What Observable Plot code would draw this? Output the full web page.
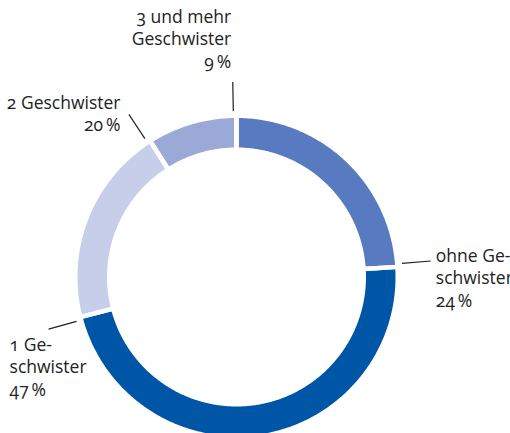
<!DOCTYPE html>
<html>
<head>
<meta charset="utf-8">
<script src="https://cdn.jsdelivr.net/npm/d3@7"></script>
<script src="https://cdn.jsdelivr.net/npm/@observablehq/plot@0.6"></script>
<style>
  html, body { margin: 0; padding: 0; background: #fff; }
  #chart svg { display: block; }
</style>
</head>
<body>
<div id="chart"></div>
<script>
// ---- data ----
const categories = ["ohne Geschwister", "1 Geschwister", "2 Geschwister", "3 und mehr Geschwister"];
const values = [24, 47, 20, 9];
const labelLines = [["ohne Ge-", "schwister"], ["1 Ge-", "schwister"], ["2 Geschwister"], ["3 und mehr", "Geschwister"]];
const colors = ["#587ac0", "#0056a6", "#c6cee9", "#9aa9d6"];

// ---- layout ----
const W = 510, H = 433;
const CX = 236, CY = 276.5, R_OUT = 159, R_IN = 129.5, GAP = 4.5;
const LEAD_R1 = 166, LEAD_R2 = 195, LEAD_SHIFT = 1.1 * Math.PI / 180;
// label placement relative to the leader's outer end
const labelAnchor = ["start", "start", "end", "end"];
const labelDx = [5, -39, -8.4, -1.5];
const labelDy = [45.5, 66.5, 17, -14.5];

const pie = d3.pie().sort(null).value(d => d)(values);

const px = (a, r) => CX + r * Math.sin(a);
const py = (a, r) => CY - r * Math.cos(a);

// ring polygons
const ringPts = [];
pie.forEach((s, i) => {
  const a0 = s.startAngle, a1 = s.endAngle;
  const n = Math.max(8, Math.ceil((a1 - a0) / (0.5 * Math.PI / 180)));
  for (let k = 0; k <= n; k++) {
    const a = a0 + (a1 - a0) * k / n;
    ringPts.push({cat: categories[i], x: px(a, R_OUT + GAP / 2), y: py(a, R_OUT + GAP / 2)});
  }
  for (let k = n; k >= 0; k--) {
    const a = a0 + (a1 - a0) * k / n;
    ringPts.push({cat: categories[i], x: px(a, R_IN - GAP / 2), y: py(a, R_IN - GAP / 2)});
  }
});

// leaders and labels
const leaders = pie.map((s, i) => {
  const a = s.endAngle - LEAD_SHIFT;
  return {
    cat: categories[i],
    x1: px(a, LEAD_R1), y1: py(a, LEAD_R1),
    x2: px(a, LEAD_R2), y2: py(a, LEAD_R2),
    anchor: labelAnchor[i],
    tx: px(a, LEAD_R2) + labelDx[i],
    ty: py(a, LEAD_R2) + labelDy[i],
    text: [...labelLines[i], `${values[i]}\u2009%`].join("\n")
  };
});

const textOpts = {
  x: "tx", y: "ty", text: "text",
  lineAnchor: "bottom", lineHeight: 1.27,
  fontSize: 17.5, fill: "#222"
};

const chart = Plot.plot({
  width: W, height: H,
  margin: 0,
  x: {domain: [0, W], range: [0, W], axis: null},
  y: {domain: [0, H], range: [0, H], axis: null},
  color: {domain: categories, range: colors},
  style: {fontFamily: "'Open Sans', sans-serif", fontVariantNumeric: "oldstyle-nums", background: "#fff"},
  marks: [
    Plot.line(ringPts, {x: "x", y: "y", z: "cat", fill: "cat", stroke: null, curve: "linear-closed"}),
    Plot.line(ringPts, {x: "x", y: "y", z: "cat", fill: null, stroke: "white", strokeWidth: GAP, curve: "linear-closed"}),
    Plot.link(leaders, {x1: "x1", y1: "y1", x2: "x2", y2: "y2", stroke: "#222", strokeWidth: 1.2}),
    Plot.text(leaders.filter(d => d.anchor === "start"), {...textOpts, textAnchor: "start"}),
    Plot.text(leaders.filter(d => d.anchor === "end"), {...textOpts, textAnchor: "end"})
  ]
});
document.getElementById("chart").appendChild(chart);
</script>
</body>
</html>
